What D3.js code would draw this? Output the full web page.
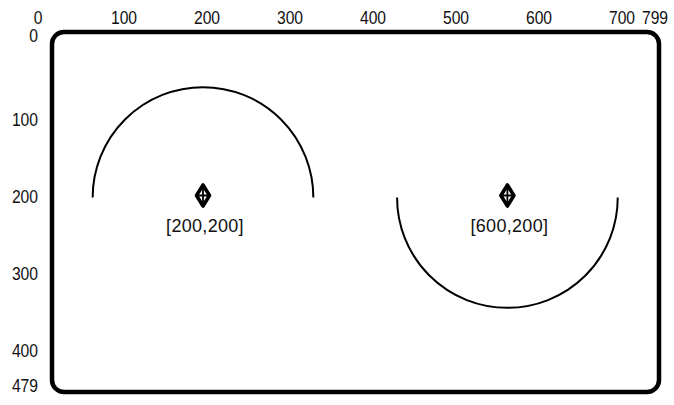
<!DOCTYPE html>
<html>
<head>
<meta charset="utf-8">
<script src="https://cdn.jsdelivr.net/npm/d3@7"></script>
<style>
  html, body { margin: 0; padding: 0; background: #fff; }
  svg { display: block; }
  .tick { font-family: "Liberation Sans", Arial, sans-serif; font-size: 18px; fill: #111; }
  .lbl { font-family: "Liberation Sans", Arial, sans-serif; font-size: 18px; fill: #111; letter-spacing: 0.3px; }
</style>
</head>
<body>
<svg id="chart" width="674" height="405"></svg>
<script>
// ---- data ----
const xTickValues = [0, 100, 200, 300, 400, 500, 600, 700, 799];
const xTickLabels = ["0", "100", "200", "300", "400", "500", "600", "700", "799"];
const yTickValues = [0, 100, 200, 300, 400, 479];
const yTickLabels = ["0", "100", "200", "300", "400", "479"];
const centerX = [200, 600];
const centerY = [200, 200];
const arcSide = ["up", "down"];
const arcRadius = [145, 145];
const centerLabels = ["[200,200]", "[600,200]"];

// ---- layout ----
const W = 674, H = 405;
const frame = { left: 52, top: 32, right: 659, bottom: 392, r: 12 };
const narrow = 0.87;

// geometry scales (screen-coordinate space 800 x 480)
const x = d3.scaleLinear().domain([0, 800]).range([50.8, 659.6]);
const y = d3.scaleLinear().domain([0, 480]).range([45.3, 410.6]);
// tick-label placement scales (labels on the reference are spaced loosely)
const xt = d3.scaleLinear().domain([0, 100, 700, 799]).range([38, 124, 622, 655]);
const yt = d3.scaleLinear().domain([0, 100, 400, 479]).range([36, 120, 351, 386]);

const svg = d3.select("#chart");

// frame
svg.append("rect")
  .attr("x", frame.left).attr("y", frame.top)
  .attr("width", frame.right - frame.left)
  .attr("height", frame.bottom - frame.top)
  .attr("rx", frame.r).attr("ry", frame.r)
  .attr("fill", "none").attr("stroke", "#000").attr("stroke-width", 4.5);

// x tick labels (top)
svg.append("g").selectAll("g").data(xTickValues).join("g")
  .attr("transform", d => `translate(${xt(d)},24) scale(${narrow},1)`)
  .append("text")
  .attr("class", "tick")
  .attr("text-anchor", "middle")
  .text((d, i) => xTickLabels[i]);

// y tick labels (left)
svg.append("g").selectAll("g").data(yTickValues).join("g")
  .attr("transform", d => `translate(38,${yt(d)}) scale(${narrow},1)`)
  .append("text")
  .attr("class", "tick")
  .attr("dy", "0.36em")
  .attr("text-anchor", "end")
  .text((d, i) => yTickLabels[i]);

// arcs
const items = centerX.map((cx, i) => ({ cx, cy: centerY[i], side: arcSide[i], r: arcRadius[i], label: centerLabels[i] }));

svg.append("g").selectAll("path").data(items).join("path")
  .attr("d", d => {
    const p = d3.path();
    const rpx = x(d.r) - x(0);
    const a0 = Math.PI;
    const a1 = d.side === "up" ? 2 * Math.PI : 0;
    p.arc(x(d.cx), y(d.cy), rpx, a0, a1, d.side !== "up");
    return p.toString();
  })
  .attr("fill", "none").attr("stroke", "#000").attr("stroke-width", 2);

// center markers: diamond with crosshair
const mk = svg.append("g").selectAll("g").data(items).join("g")
  .attr("transform", d => `translate(${x(d.cx)},${y(d.cy) - 2})`);
mk.append("path")
  .attr("d", "M0,-10.5 L6.5,0 L0,10.5 L-6.5,0 Z")
  .attr("fill", "none").attr("stroke", "#000").attr("stroke-width", 3.6)
  .attr("stroke-linejoin", "round");
mk.append("path")
  .attr("d", "M0,-9 V9 M-5,0 H5")
  .attr("stroke", "#000").attr("stroke-width", 1.8);

// center labels
svg.append("g").selectAll("text").data(items).join("text")
  .attr("class", "lbl")
  .attr("x", d => x(d.cx) + 2).attr("y", d => y(d.cy) + 34)
  .attr("text-anchor", "middle")
  .text(d => d.label);
</script>
</body>
</html>
